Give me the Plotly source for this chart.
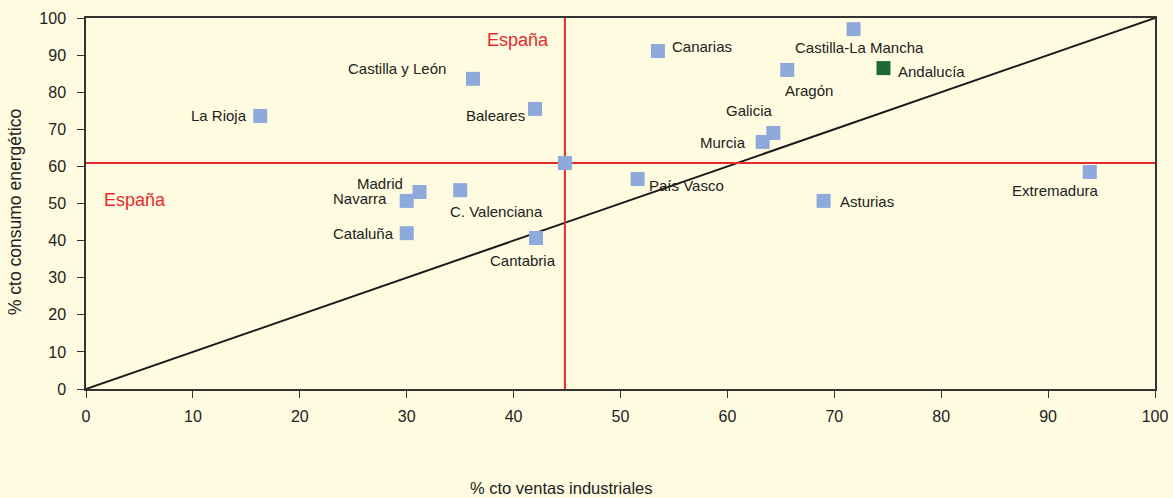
import plotly.graph_objects as go

# Data
regions = ["La Rioja", "Castilla y León", "Baleares", "Canarias", "Castilla-La Mancha",
           "Andalucía", "Aragón", "Galicia", "Murcia", "País Vasco", "Extremadura",
           "Asturias", "Madrid", "Navarra", "C. Valenciana", "Cataluña", "Cantabria"]
ventas = [16.3, 36.2, 42.0, 53.5, 71.8, 74.6, 65.6, 64.3, 63.3, 51.6, 93.9,
          69.0, 31.2, 30.0, 35.0, 30.0, 42.1]
consumo = [73.6, 83.6, 75.5, 91.1, 97.0, 86.5, 86.0, 69.0, 66.6, 56.6, 58.5,
           50.7, 53.1, 50.7, 53.6, 42.0, 40.7]
espana_ventas = 44.8
espana_consumo = 60.9
diag_x = [0, 100]
diag_y = [0, 100]
x_ticks = [0, 10, 20, 30, 40, 50, 60, 70, 80, 90, 100]
y_ticks = [0, 10, 20, 30, 40, 50, 60, 70, 80, 90, 100]

# Label placement (pixel offsets relative to each marker)
label_style = {
    "La Rioja": ("right", -11, 0),
    "Castilla y León": ("center", -76, 10),
    "Baleares": ("right", -8, -7),
    "Canarias": ("left", 12, 5),
    "Castilla-La Mancha": ("center", 6, -18),
    "Andalucía": ("left", 13, -3),
    "Aragón": ("center", 22, -21),
    "Galicia": ("center", -24, 23),
    "Murcia": ("right", -15, -1),
    "País Vasco": ("left", 9, -6),
    "Extremadura": ("center", -34, -19),
    "Asturias": ("left", 14, -1),
    "Madrid": ("right", -15, 9),
    "Navarra": ("right", -18, 2),
    "C. Valenciana": ("center", 36, -21),
    "Cataluña": ("right", -11, 0),
    "Cantabria": ("center", -13, -22),
}

BG = "#FFFBE0"
BLUE = "#8DAADB"
GREEN = "#1D6A35"
RED = "#E52A2E"
TXT = "#222222"
FONT = "Liberation Sans, Arial, sans-serif"

colors = [GREEN if r == "Andalucía" else BLUE for r in regions]

fig = go.Figure()

# Diagonal
fig.add_trace(go.Scatter(x=diag_x, y=diag_y, mode="lines",
                         line=dict(color="#1a1a1a", width=2), hoverinfo="skip"))
# Spain reference lines
fig.add_trace(go.Scatter(x=[espana_ventas, espana_ventas], y=[0, 100], mode="lines",
                         line=dict(color=RED, width=2), hoverinfo="skip"))
fig.add_trace(go.Scatter(x=[0, 100], y=[espana_consumo, espana_consumo], mode="lines",
                         line=dict(color=RED, width=2), hoverinfo="skip"))
# Regions
fig.add_trace(go.Scatter(x=ventas, y=consumo, mode="markers", text=regions,
                         marker=dict(symbol="square", size=14, color=colors,
                                     line=dict(width=0))))
# Spain point
fig.add_trace(go.Scatter(x=[espana_ventas], y=[espana_consumo], mode="markers",
                         marker=dict(symbol="square", size=14, color=BLUE,
                                     line=dict(width=0))))

annotations = []
for r, xv, yv in zip(regions, ventas, consumo):
    anchor, dx, dy = label_style[r]
    annotations.append(dict(x=xv, y=yv, xref="x", yref="y", text=r, showarrow=False,
                            xanchor=anchor, yanchor="middle", xshift=dx, yshift=dy,
                            font=dict(family=FONT, size=15, color=TXT)))

annotations.append(dict(x=espana_ventas, y=100, xref="x", yref="y", text="España",
                        showarrow=False, xanchor="right", yanchor="middle",
                        xshift=-14, yshift=-22,
                        font=dict(family=FONT, size=18, color=RED)))
annotations.append(dict(x=0, y=espana_consumo, xref="x", yref="y", text="España",
                        showarrow=False, xanchor="left", yanchor="middle",
                        xshift=16, yshift=-37,
                        font=dict(family=FONT, size=18, color=RED)))
annotations.append(dict(x=0.445, y=-0.267, xref="paper", yref="paper",
                        text="% cto ventas industriales", showarrow=False,
                        xanchor="center", yanchor="middle",
                        font=dict(family=FONT, size=16.5, color=TXT)))
annotations.append(dict(x=-0.0664, y=0.477, xref="paper", yref="paper",
                        text="% cto consumo energético", showarrow=False, textangle=-90,
                        xanchor="center", yanchor="middle",
                        font=dict(family=FONT, size=17.5, color=TXT)))

axis_common = dict(range=[0, 100], showgrid=False, zeroline=False, showline=True,
                   linecolor="#333333", linewidth=1.5, mirror=True, automargin=False,
                   ticks="outside", ticklen=7, tickwidth=1.2, tickcolor="#333333",
                   tickfont=dict(family=FONT, size=16, color=TXT), fixedrange=True)

fig.update_layout(
    width=1173, height=498,
    paper_bgcolor=BG, plot_bgcolor=BG,
    margin=dict(l=86, r=18, t=18, b=109),
    showlegend=False,
    xaxis=dict(tickvals=x_ticks, ticktext=[str(v) for v in x_ticks],
               ticklabelstandoff=5, **axis_common),
    yaxis=dict(tickvals=y_ticks, ticktext=[str(v) for v in y_ticks],
               ticklabelstandoff=8, **axis_common),
    annotations=annotations,
)

fig.write_html("out.html",
               config={"displayModeBar": False},
               post_script="document.body.style.margin='0';"
                           "document.body.style.padding='0';"
                           "document.body.style.overflow='hidden';"
                           "document.body.style.background='" + BG + "';")
